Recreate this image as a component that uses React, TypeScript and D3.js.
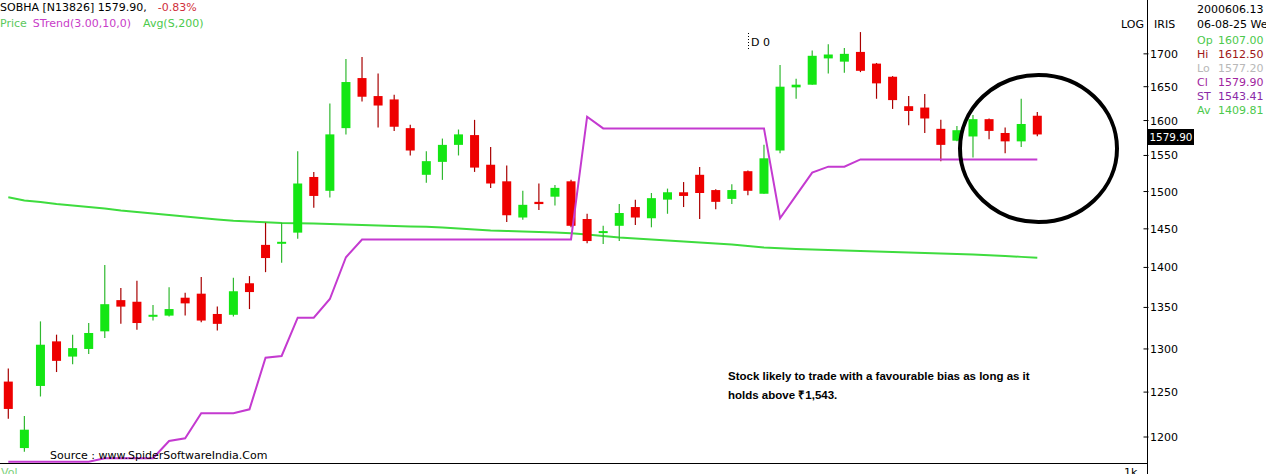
import React from "react";
import * as d3 from "d3";

const opens = [1262,1188,1257,1309,1291,1300,1321,1359,1357,1339,1340,1362,1367,1342,1341,1380,1429,1431,1445,1520,1501,1589,1663,1636,1631,1589,1523,1541,1565,1579,1537,1514,1465,1486,1493,1514,1463,1445,1454,1479,1464,1489,1499,1523,1502,1490,1528,1497,1557,1649,1653,1693,1688,1703,1685,1665,1621,1619,1588,1571,1577,1602,1582,1570,1607];
const highs = [1277,1223,1333,1317,1317,1331,1403,1374,1383,1353,1375,1368,1388,1351,1387,1389,1458,1458,1556,1527,1625,1692,1695,1670,1638,1594,1556,1574,1587,1601,1562,1536,1501,1511,1509,1516,1470,1454,1483,1489,1498,1504,1513,1534,1503,1510,1529,1565,1683,1662,1705,1715,1709,1734,1686,1666,1636,1639,1601,1592,1608,1603,1590,1632,1612.5];
const lows = [1220,1184,1245,1273,1282,1294,1313,1330,1323,1334,1339,1340,1332,1322,1339,1348,1394,1406,1437,1478,1492,1580,1628,1590,1585,1550,1512,1516,1550,1527,1505,1459,1462,1475,1481,1452,1431,1430,1434,1455,1452,1470,1479,1463,1476,1483,1495,1497,1553,1632,1653,1670,1671,1672,1632,1617,1593,1582,1542,1570,1547,1573,1553,1562,1577.2];
const closes = [1231,1208,1305,1286,1301,1319,1354,1351,1331,1341,1348,1355,1334,1330,1370,1369,1412,1433,1511,1494,1580,1657,1635,1622,1591,1557,1542,1565,1580,1533,1511,1468,1482,1483,1505,1454,1434,1447,1471,1465,1491,1499,1494,1498,1486,1502,1501,1546,1650,1653,1697,1699,1700,1674,1655,1630,1614,1603,1565,1586,1602,1585,1570,1595,1579.9];
const superTrend = [1173.4,1173.4,1173.4,1173.4,1173.4,1173.4,1177,1177,1177,1177,1195.6,1198.6,1226.1,1226.1,1226.1,1230.6,1289.7,1291.7,1337.5,1337.5,1360.4,1413,1436,1436,1436,1436,1436,1436,1436,1436,1436,1436,1436,1436,1436,1436,1605.6,1588.6,1588.6,1588.6,1588.6,1588.6,1588.6,1588.6,1588.6,1588.6,1588.6,1588.6,1464,1494.7,1526,1534.3,1534.3,1544.5,1544.5,1544.5,1544.5,1544.5,1544.5,1544.5,1544.5,1544.5,1544.5,1544.5,1544.5];
const avg200 = [1492.2,1487.9,1485.9,1483.2,1481.2,1479.1,1477.1,1474.4,1472.4,1470.4,1468.4,1466.4,1464.4,1462.4,1460.8,1459.8,1458.7,1457.8,1457.4,1457.0,1456.4,1455.8,1455.1,1454.4,1453.8,1453.2,1452.7,1451.8,1450.5,1449.2,1447.8,1447.2,1446.5,1445.9,1445.2,1444.2,1442.6,1440.6,1438.7,1437.4,1436.1,1434.8,1433.5,1432.2,1430.9,1429.6,1427.6,1425.7,1424.7,1423.8,1423.1,1422.5,1421.8,1421.2,1420.5,1419.9,1419.2,1418.6,1418.0,1417.3,1416.5,1415.6,1414.6,1413.5,1412.4];
const yTicks = [1200,1250,1300,1350,1400,1450,1500,1550,1600,1650,1700];
const legendLabels = ["Op","Hi","Lo","Cl","ST","Av"];
const legendValues = ["1607.00","1612.50","1577.20","1579.90","1543.41","1409.81"];
const legendColors = ["#4cc94c","#a01818","#b8b8b8","#a024a0","#8a2aa8","#4cc94c"];

const W = 1266, H = 474;
const FONT = "DejaVu Sans, sans-serif";
const UP = "#14e614", DOWN = "#ee0000", UPW = "#30b830", DOWNW = "#a80000";

export default function App() {
  const n = opens.length;
  const x = d3.scaleLinear().domain([0, n - 1]).range([8.3, 1037.3]);
  const y = d3.scaleLog().domain([1171.97, 1785.3]).range([463, 0]);
  const idx = d3.range(n);
  const stPath = d3.line<number>().x((i) => x(i)).y((i) => y(superTrend[i]))(idx) || "";
  const avPath = d3.line<number>().x((i) => x(i)).y((i) => y(avg200[i]))(idx) || "";
  const axisX = 1147.5;
  const bw = 9;
  return (
    <svg width={W} height={H} style={{ position: "absolute", left: 0, top: 0, background: "#fff" }} fontFamily={FONT}>
      <rect x={0} y={0} width={W} height={H} fill="#fff" />
      <path d={avPath} fill="none" stroke="#3edc3e" strokeWidth={2} />
      {idx.map((i) => {
        const up = closes[i] >= opens[i];
        const cx = x(i);
        const top = y(Math.max(opens[i], closes[i]));
        const bot = y(Math.min(opens[i], closes[i]));
        const h = Math.max(bot - top, 2);
        return (
          <g key={i}>
            <line x1={cx} x2={cx} y1={y(highs[i])} y2={y(lows[i])} stroke={up ? UPW : DOWNW} strokeWidth={1.2} />
            <rect x={cx - bw / 2} y={top} width={bw} height={h} fill={up ? UP : DOWN} />
          </g>
        );
      })}
      <path d={stPath} fill="none" stroke="#c43ad0" strokeWidth={2} />
      <line x1={0} x2={axisX} y1={463.5} y2={463.5} stroke="#000" strokeWidth={1} />
      <line x1={axisX} x2={axisX} y1={0} y2={H} stroke="#000" strokeWidth={1} />
      {yTicks.map((t) => (
        <g key={t}>
          <line x1={axisX - 4} x2={axisX + 1} y1={y(t)} y2={y(t)} stroke="#000" strokeWidth={1} />
          <text x={1150} y={y(t) + 4} fontSize={11} fill="#000">{t}</text>
        </g>
      ))}
      <rect x={1148} y={129} width={46} height={16} fill="#000" />
      <text x={1149.5} y={141} fontSize={11} fill="#fff" textLength={43} lengthAdjust="spacingAndGlyphs">1579.90</text>
      <text x={0} y={11} fontSize={11} fill="#000">SOBHA [N13826] 1579.90,
        <tspan fill="#d0303c" dx={11}>-0.83%</tspan>
      </text>
      <text x={0} y={27} fontSize={11}>
        <tspan fill="#5cc85c">Price</tspan>
        <tspan fill="#c83cc8" dx={6}>STrend(3.00,10,0)</tspan>
        <tspan fill="#4cc94c" dx={12}>Avg(S,200)</tspan>
      </text>
      <text x={1121} y={28} fontSize={11} fill="#000">LOG</text>
      <text x={1154} y={28} fontSize={11} fill="#000">IRIS</text>
      <text x={1197} y={13} fontSize={11} fill="#000">2000606.13</text>
      <text x={1197} y={28} fontSize={11} fill="#000">06-08-25 We</text>
      {legendLabels.map((l, k) => (
        <g key={l}>
          <text x={1197} y={44 + k * 14} fontSize={11} fill={legendColors[k]}>{l}</text>
          <text x={1218} y={44 + k * 14} fontSize={11} fill={legendColors[k]}>{legendValues[k]}</text>
        </g>
      ))}
      <line x1={748.5} x2={748.5} y1={33} y2={51} stroke="#000" strokeWidth={1} strokeDasharray="1,2" />
      <text x={751} y={46} fontSize={11} fill="#000">D 0</text>
      <text x={728} y={380} fontSize={11.5} fontWeight="bold" fill="#000" fontFamily="Liberation Sans, Arial, sans-serif">Stock likely to trade with a favourable bias as long as it</text>
      <text x={728} y={399} fontSize={11.5} fontWeight="bold" fill="#000" fontFamily="Liberation Sans, Arial, sans-serif">holds above ₹1,543.</text>
      <ellipse cx={1038.5} cy={148.5} rx={78.5} ry={73.5} fill="none" stroke="#000" strokeWidth={4} />
      <text x={50} y={459} fontSize={11} fill="#000">Source : www.SpiderSoftwareIndia.Com</text>
      <text x={1} y={476} fontSize={11} fill="#7cd07c">Vol</text>
      <text x={1124} y={476} fontSize={11} fill="#000">1k</text>
    </svg>
  );
}
